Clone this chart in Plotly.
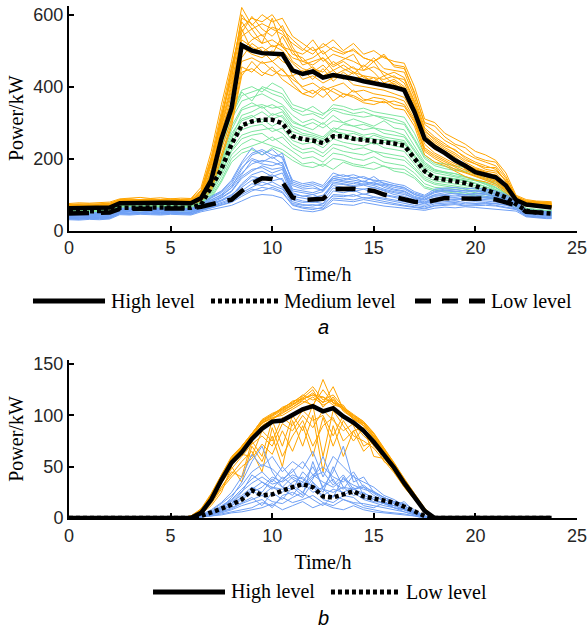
import plotly.graph_objects as go

# ---------------- time axes ----------------
TIMES = [i * 0.5 for i in range(48)] + [23.75]          # 0 .. 23.5, 23.75 (h)
TIMES_DAY = [5.5 + 0.5 * i for i in range(27)]           # 5.5 .. 18.5 (h), PV daytime window

X_TICKS = [0, 5, 10, 15, 20, 25]
Y_TICKS_A = [0, 200, 400, 600]
Y_TICKS_B = [0, 50, 100, 150]

# ---------------- (a) load, individual days ----------------
HIGH_DAYS = [
    [72,74,73,75,76, 86,88,85,87,86,88,85,87, 100,190,320,420,600,560,575,560,545,520,500,530,490,510,495,500,480,470,485,460,455,380,300,290,260,240,230,205,195,190,150,95,82,80,78, 77],
    [65,66,64,66,68, 78,80,79,81,78,80,79,78, 95,140,250,340,480,520,500,470,490,430,445,420,450,415,440,420,430,410,400,415,395,340,250,225,215,200,170,160,150,140,115,85,75,72,70, 70],
    [60,58,59,61,60, 74,75,73,76,74,75,73,74, 85,120,210,300,440,450,430,455,420,400,380,390,370,395,380,375,360,370,365,350,345,300,220,200,185,170,160,150,140,130,110,80,70,68,66, 66],
    [70,68,71,69,72, 82,84,86,83,85,82,84,83, 110,200,300,450,580,540,520,590,510,480,470,460,480,455,470,450,445,470,430,440,425,360,280,250,230,215,195,185,170,165,140,90,80,76,74, 74],
    [63,64,62,65,66, 77,79,76,78,80,77,78,76, 90,150,270,380,510,490,480,500,470,455,420,430,410,425,430,405,400,395,390,380,370,320,240,215,200,185,175,160,150,145,120,82,72,70,68, 68],
    [66,67,69,66,70, 80,82,81,83,80,82,81,80, 100,170,290,400,540,560,520,530,510,500,460,470,480,445,460,440,430,425,420,430,410,350,270,245,225,210,190,175,165,160,130,88,78,75,72, 72],
    [58,60,59,60,62, 72,73,74,72,73,72,74,72, 82,110,200,290,430,470,440,430,450,410,380,370,395,360,380,370,355,350,360,340,335,290,210,190,180,165,150,140,135,125,105,78,68,66,64, 64],
    [75,77,76,78,79, 88,90,92,89,91,88,90,89, 120,220,350,470,620,570,600,580,590,540,520,500,510,530,500,520,490,500,480,470,465,400,310,300,270,255,240,220,210,195,160,98,86,82,80, 80],
    [62,63,65,64,66, 76,77,78,76,77,79,76,77, 92,160,280,360,500,530,545,510,520,470,450,440,460,430,445,455,425,415,430,405,395,330,260,235,210,195,185,170,160,150,125,84,74,72,70, 70],
    [68,70,69,71,70, 81,83,80,84,82,81,83,82, 105,180,310,430,560,500,510,490,540,490,480,450,440,470,450,435,460,440,410,420,400,345,265,240,220,205,180,168,158,155,128,86,76,74,72, 72],
    [64,65,67,66,67, 79,80,82,79,81,80,82,79, 96,165,285,390,530,510,495,515,500,465,440,455,430,445,420,440,415,425,400,410,385,335,255,230,212,198,182,172,162,152,126,86,76,73,71, 71],
    [69,71,70,72,73, 84,85,83,86,84,85,83,84, 108,195,315,440,590,575,540,565,555,500,490,510,470,490,480,470,455,480,450,445,440,370,285,260,240,222,205,190,180,170,138,92,80,78,75, 75],
    [61,62,60,63,64, 75,76,78,75,77,76,78,75, 88,135,240,330,470,480,465,470,445,420,400,410,390,400,410,385,390,380,375,370,360,310,230,210,195,180,168,155,146,138,115,82,72,69,67, 67],
    [67,66,68,67,69, 82,81,84,82,83,81,84,82, 102,185,300,410,550,595,560,540,570,510,470,480,500,460,475,490,445,455,440,425,420,355,275,255,235,225,200,185,175,175,135,90,79,76,73, 73],
    [59,61,60,62,61, 73,74,75,73,74,73,75,73, 84,125,225,310,455,440,470,445,430,430,395,380,400,385,370,390,365,360,355,360,350,305,225,205,190,175,162,152,142,134,112,79,69,67,65, 65],
    [71,72,74,72,75, 85,87,86,88,85,87,86,88, 112,205,330,455,565,590,580,600,560,530,505,490,520,500,490,505,480,470,490,455,450,385,295,275,250,235,215,200,190,180,145,94,83,79,77, 77],
]

MEDIUM_DAYS = [
    [58,60,59,61,62, 70,72,71,73,70,72,71,70, 85,170,250,330,390,400,385,410,395,350,340,330,320,350,345,335,340,330,325,320,315,270,210,190,185,180,175,165,150,135,115,82,62,58,56, 56],
    [52,53,51,54,55, 64,65,63,66,64,65,63,64, 75,130,190,260,320,330,345,320,330,290,280,270,260,285,280,275,265,270,260,255,250,210,175,160,155,150,145,138,128,115,100,78,55,52,50, 50],
    [46,45,47,46,48, 58,57,59,58,57,59,58,57, 65,100,150,210,240,255,245,260,240,220,200,205,190,215,210,200,195,205,190,185,180,160,130,120,118,115,110,105,100,92,84,70,50,46,44, 44],
    [55,56,58,55,57, 67,68,66,69,67,68,66,67, 80,150,230,310,360,370,380,365,350,320,300,310,295,320,300,310,300,290,305,285,280,235,190,170,162,158,150,142,132,120,102,80,58,54,52, 52],
    [50,49,51,50,52, 62,61,63,62,64,61,62,63, 72,120,175,240,290,300,310,290,305,265,250,255,240,265,260,250,255,240,245,235,230,195,160,145,140,138,132,125,118,108,95,75,52,49,47, 47],
    [48,47,49,48,50, 60,59,61,60,62,60,59,61, 70,110,165,225,265,275,280,285,270,240,225,230,215,240,235,225,230,220,215,210,205,175,145,132,128,125,120,115,108,100,88,72,50,47,45, 45],
    [54,55,53,56,57, 66,67,65,68,66,67,65,66, 78,140,210,290,340,355,340,350,335,300,290,280,300,275,295,290,280,285,270,265,260,220,180,165,160,152,148,140,130,118,102,79,56,53,51, 51],
    [44,43,45,44,46, 55,56,54,57,55,56,54,55, 62,90,135,190,215,225,210,230,215,195,180,175,185,170,190,180,175,170,180,165,160,145,118,110,108,105,100,96,92,86,78,66,48,44,42, 42],
    [53,52,54,53,55, 64,63,65,66,64,63,65,64, 74,125,195,270,310,320,300,325,315,275,265,260,250,275,270,260,250,265,255,245,240,205,170,152,148,142,140,132,122,112,98,76,54,51,49, 49],
    [49,50,48,51,52, 61,62,60,63,61,62,60,61, 71,115,180,245,280,290,295,275,285,250,240,245,230,255,245,240,235,245,230,225,220,185,150,138,134,130,126,120,112,104,90,73,51,48,46, 46],
    [56,57,55,58,59, 68,69,67,70,68,69,67,68, 82,160,240,320,375,385,395,380,370,335,320,325,310,335,325,320,315,320,310,300,295,250,200,180,172,168,162,152,140,128,108,81,60,56,54, 54],
    [47,48,46,49,50, 59,60,58,61,59,60,58,59, 68,105,160,220,255,265,270,250,260,230,215,220,205,230,220,215,210,220,205,200,195,170,140,128,124,120,116,110,104,96,86,71,49,46,44, 44],
    [51,52,50,53,54, 63,64,62,65,63,64,62,63, 73,122,185,255,305,315,330,310,320,285,270,265,255,280,265,270,260,255,250,250,245,205,168,150,146,144,138,130,122,110,96,76,53,50,48, 48],
    [57,58,56,59,60, 69,70,68,71,69,70,68,69, 84,165,245,325,385,360,400,390,380,340,330,345,325,340,335,325,330,320,315,310,300,255,205,185,178,172,166,158,145,130,110,82,61,57,55, 55],
    [45,46,44,47,48, 57,58,56,59,57,58,56,57, 64,95,140,200,225,235,245,235,225,205,185,190,178,200,195,185,180,190,178,172,170,150,122,114,112,108,104,100,95,88,80,68,48,45,43, 43],
    [53,54,52,55,56, 65,66,64,67,65,66,64,65, 76,135,200,280,335,345,350,340,345,305,290,300,285,305,300,290,295,285,280,275,265,225,185,168,164,158,150,142,134,120,104,79,56,52,50, 50],
]

LOW_DAYS = [
    [40,42,41,43,44, 55,56,57,55,56,54,56,55, 65,80,95,120,170,210,220,200,215,130,120,125,110,150,145,140,135,150,130,125,120,100,92,105,110,108,112,110,105,100,92,80,55,52,50, 50],
    [36,35,37,36,38, 50,51,49,52,50,51,49,50, 60,72,82,95,130,155,165,150,160,95,90,85,92,125,120,118,115,120,110,100,95,85,78,88,92,90,88,92,90,88,82,72,48,45,43, 43],
    [32,31,33,32,34, 46,45,47,46,45,47,46,45, 55,62,70,78,95,110,120,115,105,70,62,58,65,90,88,85,92,86,80,75,70,66,62,70,72,75,70,72,74,70,66,60,40,37,35, 35],
    [44,45,43,46,47, 58,59,57,60,58,59,57,58, 68,85,100,125,160,185,195,190,180,110,105,100,108,140,135,130,138,128,125,115,110,95,88,100,105,102,98,104,102,96,88,78,54,50,48, 48],
    [38,37,39,38,40, 52,53,51,54,52,53,51,52, 62,75,85,100,120,140,150,138,145,85,78,80,75,110,105,112,100,108,98,92,88,80,74,82,86,84,88,85,82,80,76,68,46,43,41, 41],
    [48,50,49,51,52, 62,63,61,64,62,63,61,62, 72,95,110,140,190,230,210,225,200,140,130,135,125,160,150,155,145,140,138,130,125,108,98,115,118,120,116,118,115,110,100,86,58,55,53, 53],
    [30,29,31,30,32, 44,43,45,44,43,45,44,43, 52,58,64,70,82,95,100,98,90,60,55,52,58,75,72,70,78,72,68,65,62,60,56,62,65,63,66,64,62,60,58,54,38,35,33, 33],
    [42,41,43,42,44, 56,55,57,56,58,55,56,57, 66,82,92,110,150,170,175,160,170,100,96,92,98,130,128,122,126,118,112,105,100,90,84,95,98,96,100,98,95,92,86,76,52,48,46, 46],
    [35,36,34,37,36, 49,48,50,49,51,48,49,50, 58,68,78,88,110,130,125,135,120,75,70,72,68,100,98,95,102,94,90,85,80,74,70,78,80,82,78,80,78,76,72,64,44,41,39, 39],
    [46,47,45,48,49, 60,61,59,62,60,61,59,60, 70,90,105,130,175,200,190,205,185,125,115,118,112,145,140,148,135,132,128,120,115,100,92,108,112,110,106,110,108,102,94,82,56,52,50, 50],
    [39,40,38,41,42, 54,53,55,54,56,53,54,55, 64,78,90,108,145,165,180,170,175,105,95,100,88,135,130,125,130,125,115,108,104,88,80,90,95,92,96,94,92,90,84,74,50,47,45, 45],
    [34,33,35,34,36, 48,47,49,48,47,49,48,47, 57,66,74,84,105,120,135,125,115,80,72,68,74,96,94,100,90,92,86,80,76,70,66,74,76,78,74,76,76,74,70,62,42,39,37, 37],
    [43,44,42,45,46, 57,58,56,59,57,58,56,57, 67,86,98,118,155,195,185,180,190,115,110,105,115,145,138,135,128,135,120,112,108,92,86,98,100,104,100,102,100,94,88,77,53,50,47, 47],
    [37,38,36,39,40, 51,52,50,53,51,52,50,51, 61,74,84,98,125,150,145,155,140,90,82,78,84,118,112,108,115,105,100,95,90,82,76,85,88,86,90,88,86,84,78,70,47,44,42, 42],
    [47,48,46,49,50, 61,62,60,63,61,62,60,61, 71,92,108,135,185,215,225,210,205,135,125,130,120,150,155,145,150,138,132,125,118,104,95,110,115,114,110,112,112,106,96,84,57,53,51, 51],
    [33,32,34,33,35, 47,46,48,47,46,48,47,46, 56,64,72,80,100,115,110,120,108,72,65,62,60,85,82,80,86,80,76,72,68,64,60,68,70,72,68,70,70,68,64,58,40,37,35, 35],
]

# ---------------- (a) load, typical (mean) curves ----------------
HIGH_MEAN = [62,62,61,62,64, 76,77,77,76,77,77,76,76,
             90,140,255,340,515,500,493,490,490,445,435,442,425,432,428,422,415,410,402,398,390,330,255,232,215,195,180,162,155,148,125,85,72,68,65, 64]
MEDIUM_MEAN = [52,52,52,53,55, 63,64,64,63,64,64,63,63,
               72,120,170,240,292,303,308,308,298,262,254,250,243,262,262,255,252,250,247,242,236,200,165,146,142,137,132,124,115,103,92,75,55,50,48, 47]
LOW_MEAN = [47,47,47,48,50, 60,61,61,61,61,61,60,61,
            66,73,80,86,110,130,145,143,135,92,85,86,88,115,117,116,113,110,100,93,88,80,78,85,90,89,88,88,90,86,78,70,52,50,49, 48]

# ---------------- (b) PV, individual days (daytime window) ----------------
PV_HIGH_DAYS = [
    [0,1,8,22,40,57,68,80,92,98,100,106,112,118,110,115,105,98,90,78,66,52,36,22,9,0,0],
    [0,2,6,20,38,55,66,78,90,96,104,110,118,108,135,112,110,96,92,80,64,50,35,20,8,0,0],
    [0,0,5,15,30,45,40,75,60,95,70,100,85,110,60,105,90,75,88,70,60,45,30,18,6,0,0],
    [0,1,9,24,42,60,70,82,95,100,108,112,120,115,118,110,108,100,94,82,68,54,38,24,10,0,0],
    [0,0,4,12,25,50,35,70,55,80,50,95,70,100,45,90,60,85,65,75,55,48,32,20,7,0,0],
    [0,2,7,21,39,56,67,79,93,97,103,108,115,122,112,128,106,100,92,80,65,50,36,21,8,0,0],
    [0,1,6,18,35,52,62,60,85,75,98,90,105,95,100,80,100,90,70,76,62,50,34,20,8,0,0],
    [0,1,8,23,41,58,69,81,94,100,106,111,117,125,108,118,104,97,90,79,67,53,37,23,9,0,0],
    [0,0,5,16,30,42,55,65,45,88,60,80,95,70,90,98,75,85,88,60,58,46,33,19,7,0,0],
    [0,2,9,22,40,58,70,82,96,102,106,114,116,120,113,116,107,99,93,82,66,52,37,22,9,0,0],
    [0,1,7,21,38,55,66,77,90,96,102,108,114,110,125,112,106,96,90,78,64,50,35,21,8,0,0],
    [0,0,6,18,34,48,60,72,80,70,92,85,100,88,105,95,85,92,80,72,60,48,34,20,7,0,0],
    [0,2,8,23,42,59,70,83,95,101,107,113,119,128,115,120,108,101,94,83,68,54,38,23,9,0,0],
    [0,0,5,14,28,40,50,58,72,62,85,65,90,60,98,70,95,80,75,68,56,44,30,18,6,0,0],
    [0,1,8,22,40,57,68,80,93,99,105,110,116,120,118,113,107,98,92,80,66,52,37,22,9,0,0],
]
PV_LOW_DAYS = [
    [0,0,2,6,10,20,35,55,70,45,30,40,35,50,30,45,70,35,40,25,20,15,12,5,1,0,0],
    [0,0,1,4,8,12,18,25,30,40,35,42,38,30,28,25,30,28,24,20,18,14,10,5,1,0,0],
    [0,0,1,3,5,8,12,15,18,10,22,25,20,35,18,15,22,20,12,10,15,10,8,4,1,0,0],
    [0,0,3,8,15,25,40,62,50,60,45,55,48,65,40,60,50,40,35,30,22,18,12,6,2,0,0],
    [0,0,1,2,4,6,8,10,15,12,20,15,18,22,15,12,18,14,10,8,6,5,4,2,0,0,0],
    [0,0,2,5,12,18,28,38,45,35,50,38,32,42,35,30,38,32,28,25,20,16,14,8,2,0,0],
    [0,0,1,4,6,10,15,20,12,25,18,30,22,55,28,20,40,25,18,15,12,10,6,3,1,0,0],
    [0,0,2,6,10,16,22,30,25,38,30,28,45,35,25,50,30,22,25,18,14,12,8,4,1,0,0],
    [0,0,1,3,7,12,20,28,35,30,25,35,40,30,22,28,25,30,20,16,15,12,16,6,1,0,0],
    [0,0,2,5,9,14,20,26,22,30,28,22,35,25,30,38,22,28,30,22,16,12,9,4,1,0,0],
    [0,0,2,5,8,14,25,42,35,28,40,32,25,38,60,35,28,42,22,18,14,10,8,4,1,0,0],
    [0,0,1,3,6,9,14,18,22,16,14,20,25,18,12,22,18,15,14,12,10,8,6,3,1,0,0],
    [0,0,2,7,14,22,32,45,52,48,38,45,55,42,50,40,35,45,30,26,20,16,12,6,2,0,0],
    [0,0,1,2,3,5,6,8,10,14,8,12,16,10,14,10,8,12,8,6,5,4,3,2,0,0,0],
    [0,0,2,6,11,17,26,34,40,33,36,48,30,40,45,32,42,28,32,24,18,14,10,5,1,0,0],
]

# ---------------- (b) PV, typical (mean) curves ----------------
PV_HIGH_MEAN = [0,0,0,0,0,0,0,0,0,0,0,0,0,
                5,18,37,54,64,77,87,94,95,101,106,109,104,107,99,93,85,74,62,49,34,20,7,
                0,0,0,0,0,0,0,0,0,0,0,0, 0]
PV_LOW_MEAN = [0,0,0,0,0,0,0,0,0,0,0,0,0,
               2,5,9,13,18,27,22,23,27,30,33,30,21,20,23,26,21,19,18,15,11,6,2,
               0,0,0,0,0,0,0,0,0,0,0,0, 0]

LEGEND_A = ["High level", "Medium level", "Low level"]
LEGEND_B = ["High level", "Low level"]

for arr in HIGH_DAYS + MEDIUM_DAYS + LOW_DAYS + [HIGH_MEAN, MEDIUM_MEAN, LOW_MEAN, PV_HIGH_MEAN, PV_LOW_MEAN]:
    assert len(arr) == len(TIMES), len(arr)
for arr in PV_HIGH_DAYS + PV_LOW_DAYS:
    assert len(arr) == len(TIMES_DAY), len(arr)

# ---------------- styling ----------------
ORANGE = "#FFA500"
GREEN = "#7FE6A0"
BLUE = "#6FA0F5"
DOT = "4px,3px"
DASH = "20px,12px"
SERIF = "Liberation Serif"
SANS = "Liberation Sans"

fig = go.Figure()

def thin(x, y, color, xa, ya):
    fig.add_trace(go.Scatter(x=x, y=y, mode="lines", line=dict(color=color, width=1),
                             xaxis=xa, yaxis=ya, showlegend=False, hoverinfo="skip"))

def bold(x, y, dash, name, xa, ya):
    fig.add_trace(go.Scatter(x=x, y=y, mode="lines", name=name,
                             line=dict(color="black", width=4.5, dash=dash),
                             xaxis=xa, yaxis=ya, showlegend=False))

# (a)
for d in MEDIUM_DAYS:
    thin(TIMES, d, GREEN, "x", "y")
for d in HIGH_DAYS:
    thin(TIMES, d, ORANGE, "x", "y")
for d in LOW_DAYS:
    thin(TIMES, d, BLUE, "x", "y")
bold(TIMES, HIGH_MEAN, "solid", LEGEND_A[0], "x", "y")
bold(TIMES, MEDIUM_MEAN, DOT, LEGEND_A[1], "x", "y")
bold(TIMES, LOW_MEAN, DASH, LEGEND_A[2], "x", "y")

# (b)
for d in PV_HIGH_DAYS:
    thin(TIMES_DAY, d, ORANGE, "x2", "y2")
for d in PV_LOW_DAYS:
    thin(TIMES_DAY, d, BLUE, "x2", "y2")
bold(TIMES, PV_HIGH_MEAN, "solid", LEGEND_B[0], "x2", "y2")
bold(TIMES, PV_LOW_MEAN, DOT, LEGEND_B[1], "x2", "y2")

axis_common = dict(showline=True, linecolor="black", linewidth=2, mirror=False,
                   ticks="inside", ticklen=5, tickwidth=1.5, tickcolor="black",
                   showgrid=False, zeroline=False, automargin=False,
                   ticklabeloverflow="allow",
                   tickfont=dict(family=SANS, size=18, color="#262626"))
title_font = dict(family=SERIF, size=20, color="black")

fig.update_layout(
    width=588, height=630,
    margin=dict(l=69, r=11, t=6, b=112),
    plot_bgcolor="white", paper_bgcolor="white",
    showlegend=False,
    xaxis=dict(domain=[0, 1], anchor="y", range=[0, 25], tickvals=X_TICKS,
               title=dict(text="Time/h", font=title_font, standoff=10), **axis_common),
    yaxis=dict(domain=[0.5615, 1], anchor="x", range=[0, 624], tickvals=Y_TICKS_A,
               title=dict(text="Power/kW", font=title_font, standoff=4), **axis_common),
    xaxis2=dict(domain=[0, 1], anchor="y2", range=[0, 25], tickvals=X_TICKS,
                title=dict(text="Time/h", font=title_font, standoff=10), **axis_common),
    yaxis2=dict(domain=[0, 0.3086], anchor="x2", range=[0, 154], tickvals=Y_TICKS_B,
                title=dict(text="Power/kW", font=title_font, standoff=4), **axis_common),
)

# ---------------- hand-drawn legends (long line samples) ----------------
def legend_item(x0, x1, y, dash, text):
    fig.add_shape(type="line", xref="paper", yref="paper", x0=x0, x1=x1, y0=y, y1=y,
                  line=dict(color="black", width=5, dash=dash))
    fig.add_annotation(xref="paper", yref="paper", x=x1 + 0.008, y=y, text=text,
                       showarrow=False, xanchor="left", yanchor="middle",
                       font=dict(family=SERIF, size=20, color="black"))

ya = 0.4238
legend_item(-0.0709, 0.0709, ya, "solid", LEGEND_A[0])
legend_item(0.2795, 0.4114, ya, DOT, LEGEND_A[1])
legend_item(0.6811, 0.8189, ya, "16px,11px", LEGEND_A[2])

yb = -0.1445
legend_item(0.1654, 0.3071, yb, "solid", LEGEND_B[0])
legend_item(0.5157, 0.6516, yb, DOT, LEGEND_B[1])

fig.add_annotation(xref="paper", yref="paper", x=0.5, y=0.373, text="<i>a</i>",
                   showarrow=False, xanchor="center", yanchor="middle",
                   font=dict(family=SANS, size=20, color="black"))
fig.add_annotation(xref="paper", yref="paper", x=0.5, y=-0.1953, text="<i>b</i>",
                   showarrow=False, xanchor="center", yanchor="middle",
                   font=dict(family=SANS, size=20, color="black"))

# remove the default 8px page margin so the 588x630 figure fills the window exactly
fig.write_html("out.html", config={"displayModeBar": False},
               post_script="document.body.style.margin='0px';")
